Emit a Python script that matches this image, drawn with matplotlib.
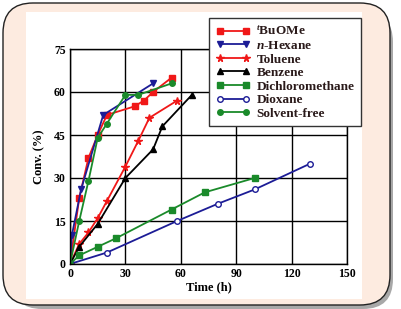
import matplotlib
matplotlib.use('Agg')
import matplotlib.pyplot as plt
from matplotlib.patches import FancyBboxPatch, Rectangle

plt.rcParams['mathtext.fontset'] = 'custom'
plt.rcParams['mathtext.rm'] = 'Liberation Serif:bold'
plt.rcParams['mathtext.it'] = 'Liberation Serif:italic:bold'
plt.rcParams['mathtext.bf'] = 'Liberation Serif:bold'

# --- data ---
labels = ['$^{t}$BuOMe', '$n$-Hexane', 'Toluene', 'Benzene',
          'Dichloromethane', 'Dioxane', 'Solvent-free']

t_buome = [0, 5, 10, 15, 20, 35, 40, 45, 55]
c_buome = [0, 23, 37, 45, 52, 55, 57, 60, 65]

t_hexane = [0, 1, 6, 18, 45]
c_hexane = [0, 10, 26, 52, 63]

t_toluene = [0, 5, 10, 15, 20, 30, 37, 43, 58]
c_toluene = [0, 7, 11, 16, 22, 34, 43, 51, 57]

t_benzene = [0, 5, 15, 30, 45, 50, 66]
c_benzene = [0, 6, 14, 30, 40, 48, 59]

t_dcm = [0, 5, 15, 25, 55, 73, 100]
c_dcm = [0, 3, 6, 9, 19, 25, 30]

t_dioxane = [0, 20, 58, 80, 100, 130]
c_dioxane = [0, 4, 15, 21, 26, 35]

t_free = [0, 5, 10, 15, 20, 30, 37, 55]
c_free = [0, 15, 29, 44, 49, 59, 59, 63]

xticks = [0, 30, 60, 90, 120, 150]
yticks = [0, 15, 30, 45, 60, 75]

red = '#f01818'
blue = '#1c1c96'
green = '#1a8a2a'

fig = plt.figure(figsize=(4.01, 3.09), dpi=100)

# --- background frame (pixel coordinates) ---
bg = fig.add_axes([0, 0, 1, 1], zorder=-1)
bg.set_xlim(0, 401)
bg.set_ylim(309, 0)
bg.axis('off')
bg.add_patch(FancyBboxPatch((12, 12), 381, 297, boxstyle='round,pad=0,rounding_size=30',
                            fc='#a8a8a8', ec='none'))
bg.add_patch(FancyBboxPatch((3, 3), 387, 302, boxstyle='round,pad=0,rounding_size=30',
                            fc='#fdebe0', ec='#222222', lw=1.0))
bg.add_patch(Rectangle((26, 12), 336, 287, fc='white', ec='none'))

# --- main plot ---
ax = fig.add_axes([70 / 401, 1 - 264 / 309, 277 / 401, 215 / 309])
kw = dict(lw=1.3, ms=4, mew=1)
ax.plot(t_buome, c_buome, '-s', color=red, label=labels[0], **kw)
ax.plot(t_hexane, c_hexane, '-v', color=blue, label=labels[1], **kw)
ax.plot(t_toluene, c_toluene, '-*', color=red, label=labels[2], lw=1.3, ms=5.5)
ax.plot(t_benzene, c_benzene, '-^', color='black', label=labels[3], **kw)
ax.plot(t_dcm, c_dcm, '-s', color=green, label=labels[4], **kw)
ax.plot(t_dioxane, c_dioxane, '-o', color=blue, mfc='white', label=labels[5], **kw)
ax.plot(t_free, c_free, '-o', color=green, label=labels[6], **kw)

ax.set_xlim(0, 150)
ax.set_ylim(0, 75)
ax.set_xticks(xticks)
ax.set_yticks(yticks)
ax.grid(True, color='black', lw=1)
ax.tick_params(length=0, pad=3)
for lab in ax.get_xticklabels() + ax.get_yticklabels():
    lab.set_fontfamily('Liberation Serif')
    lab.set_fontweight('bold')
    lab.set_fontsize(8.5)
ax.set_xlabel('Time (h)', family='Liberation Serif', weight='bold', fontsize=9, labelpad=1)
ax.set_ylabel('Conv. (%)', family='Liberation Serif', weight='bold', fontsize=9, labelpad=6)
for sp in ax.spines.values():
    sp.set_color('black')
    sp.set_linewidth(1)

leg = ax.legend(loc='upper left', bbox_to_anchor=((209 - 70) / 277, 1 + (49 - 18) / 215),
                borderaxespad=0, numpoints=2, handlelength=2.6, handletextpad=0.5,
                labelspacing=0.1, borderpad=0.5, fancybox=False, framealpha=1,
                edgecolor='#333333',
                prop={'family': 'Liberation Serif', 'weight': 'bold', 'size': 9.5})
leg.get_frame().set_linewidth(1)
for txt in leg.get_texts():
    txt.set_color('#2a1a1a')

fig.savefig('out.png', dpi=100)
